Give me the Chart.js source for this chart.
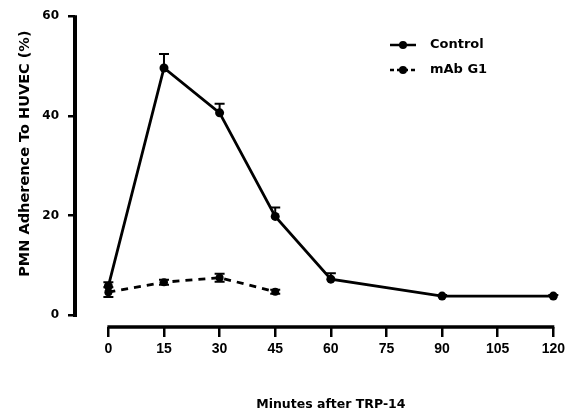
<!DOCTYPE html>
<html>
<head>
<meta charset="utf-8">
<script src="https://cdn.jsdelivr.net/npm/chart.js@4/dist/chart.umd.min.js"></script>
<style>
  html, body { margin: 0; padding: 0; background: #fff; }
  #wrap { width: 569px; height: 419px; }
</style>
</head>
<body>
<div id="wrap"><canvas id="chart" width="569" height="419"></canvas></div>
<script>
// values
const minutes = [0, 15, 30, 45, 60, 90, 120];
const controlMean = [5.8, 49.6, 40.6, 19.8, 7.2, 3.8, 3.8];
const controlErr = [0.8, 2.8, 1.8, 1.8, 1.2, 0.2, 0.2];

const mabMinutes = [0, 15, 30, 45];
const mabMean = [4.6, 6.6, 7.5, 4.7];
const mabErr = [1.0, 0.5, 0.8, 0.4];

const xTicks = [0, 15, 30, 45, 60, 75, 90, 105, 120];
const yTicks = [0, 20, 40, 60];

const seriesNames = ['Control', 'mAb G1'];
const xTitle = 'Minutes after TRP-14';
const yTitle = 'PMN Adherence To HUVEC (%)';

const toPoints = (xs, ys) => xs.map((x, i) => ({ x: x, y: ys[i] }));

// error bars, drawn through the scales
const errorBars = {
    id: 'errorBars',
    afterDatasetsDraw(chart) {
        const ctx = chart.ctx;
        const xs = chart.scales.x, ys = chart.scales.y;
        const sets = [
            { xv: minutes, m: controlMean, e: controlErr, down: false },
            { xv: mabMinutes, m: mabMean, e: mabErr, down: true }
        ];
        ctx.save();
        ctx.strokeStyle = '#000';
        ctx.lineWidth = 2;
        sets.forEach(s => {
            s.xv.forEach((xv, i) => {
                const px = xs.getPixelForValue(xv);
                const top = ys.getPixelForValue(s.m[i] + s.e[i]);
                const mid = ys.getPixelForValue(s.m[i]);
                const bot = s.down ? ys.getPixelForValue(s.m[i] - s.e[i]) : mid;
                ctx.beginPath();
                ctx.moveTo(px, bot);
                ctx.lineTo(px, top);
                ctx.moveTo(px - 5, top);
                ctx.lineTo(px + 5, top);
                if (s.down) {
                    ctx.moveTo(px - 5, bot);
                    ctx.lineTo(px + 5, bot);
                }
                ctx.stroke();
            });
        });
        ctx.restore();
    }
};

// detached axis lines, titles and the legend
const frame = {
    id: 'frame',
    afterDraw(chart) {
        const ctx = chart.ctx;
        const xs = chart.scales.x, ys = chart.scales.y;
        const area = chart.chartArea;
        ctx.save();
        ctx.strokeStyle = '#000';
        ctx.fillStyle = '#000';

        // y axis line (0..60)
        ctx.lineWidth = 4;
        ctx.beginPath();
        ctx.moveTo(area.left, ys.getPixelForValue(60) - 1);
        ctx.lineTo(area.left, ys.getPixelForValue(0) + 2);
        ctx.stroke();

        // x axis line (0..120), set below the y origin
        ctx.lineWidth = 3.5;
        ctx.beginPath();
        ctx.moveTo(xs.getPixelForValue(0) - 1, area.bottom);
        ctx.lineTo(xs.getPixelForValue(120) + 1, area.bottom);
        ctx.stroke();

        // axis titles
        ctx.font = 'bold 12.5px "DejaVu Sans"';
        ctx.textAlign = 'center';
        ctx.textBaseline = 'middle';
        ctx.fillText(xTitle, (xs.getPixelForValue(0) + xs.getPixelForValue(120)) / 2, 405);

        ctx.save();
        ctx.translate(25, (ys.getPixelForValue(0) + ys.getPixelForValue(60)) / 2 - 12);
        ctx.rotate(-Math.PI / 2);
        ctx.font = 'bold 14.5px "DejaVu Sans"';
        ctx.fillText(yTitle, 0, 0);
        ctx.restore();

        // legend
        const rows = [45, 70];
        ctx.font = 'bold 13px "DejaVu Sans"';
        ctx.textAlign = 'left';
        rows.forEach((y, i) => {
            ctx.lineWidth = 2.5;
            ctx.setLineDash(i === 0 ? [] : [4, 3]);
            ctx.beginPath();
            ctx.moveTo(390, y);
            ctx.lineTo(416, y);
            ctx.stroke();
            ctx.setLineDash([]);
            ctx.beginPath();
            ctx.arc(403, y, 4, 0, Math.PI * 2);
            ctx.fill();
            ctx.fillText(seriesNames[i], 430, y);
        });
        ctx.restore();
    }
};

new Chart(document.getElementById('chart'), {
    type: 'line',
    data: {
        datasets: [
            {
                label: seriesNames[0],
                data: toPoints(minutes, controlMean),
                borderColor: '#000',
                backgroundColor: '#000',
                borderWidth: 2.8,
                pointRadius: 4.5,
                pointBackgroundColor: '#000',
                pointBorderWidth: 0,
                tension: 0,
                clip: false
            },
            {
                label: seriesNames[1],
                data: toPoints(mabMinutes, mabMean),
                borderColor: '#000',
                backgroundColor: '#000',
                borderWidth: 2.8,
                borderDash: [7, 6],
                pointRadius: 4,
                pointBackgroundColor: '#000',
                pointBorderWidth: 0,
                tension: 0,
                clip: false
            }
        ]
    },
    options: {
        responsive: false,
        animation: false,
        devicePixelRatio: 1,
        layout: { padding: { left: 0, top: 15, right: 11, bottom: 0 } },
        plugins: {
            legend: { display: false },
            tooltip: { enabled: false }
        },
        scales: {
            x: {
                type: 'linear',
                min: -9,
                max: 120,
                afterBuildTicks: s => { s.ticks = xTicks.map(v => ({ value: v })); },
                afterFit: s => { s.height = 92; },
                border: { display: false },
                grid: {
                    drawOnChartArea: false,
                    drawTicks: true,
                    tickLength: 10,
                    lineWidth: 2.5,
                    color: '#000'
                },
                ticks: {
                    color: '#000',
                    padding: 4,
                    maxRotation: 0,
                    font: { family: '"Liberation Sans"', weight: 'bold', size: 14 }
                }
            },
            y: {
                type: 'linear',
                min: -2.4,
                max: 60,
                afterBuildTicks: s => { s.ticks = yTicks.map(v => ({ value: v })); },
                afterFit: s => { s.width = 75; },
                border: { display: false },
                grid: {
                    drawOnChartArea: false,
                    drawTicks: true,
                    tickLength: 7,
                    lineWidth: 2.5,
                    color: '#000'
                },
                ticks: {
                    color: '#000',
                    padding: 9,
                    font: { family: '"DejaVu Sans"', weight: 'bold', size: 12 }
                }
            }
        }
    },
    plugins: [errorBars, frame]
});
</script>
</body>
</html>
